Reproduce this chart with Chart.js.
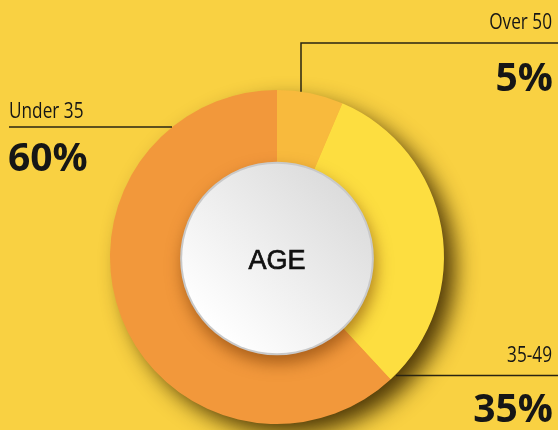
<!DOCTYPE html>
<html><head><meta charset="utf-8">
<script src="https://cdn.jsdelivr.net/npm/chart.js@4.4.1/dist/chart.umd.min.js"></script>
<style>
html,body{margin:0;padding:0;background:#F9D142;overflow:hidden}
#wrap{width:558px;height:430px;position:relative}
</style>
</head><body><div id="wrap"><canvas id="c" width="558" height="430"></canvas></div>
<script>
// Data (slice sizes as drawn in the reference; printed labels as shown)
const categories = ["Over 50", "35-49", "Under 35"];
const sliceShares = [6.4, 31.7, 61.9];
const shareLabels = ["5%", "35%", "60%"];
const centerTitle = "AGE";
const sliceColors = ["#F8BA3D", "#FDDE40", "#F2983B"];

function condensedText(ctx, text, x, y, align, sx) {
  ctx.save();
  ctx.translate(x, y);
  ctx.scale(sx, 1);
  ctx.textAlign = align;
  ctx.fillText(text, 0, 0);
  ctx.restore();
}

const decor = {
  id: 'decor',
  beforeDatasetsDraw(chart) {
    const arc = chart.getDatasetMeta(0).data[0];
    if (!arc) return;
    const ctx = chart.ctx;
    ctx.save();
    ctx.shadowColor = 'rgba(60,40,0,0.9)';
    ctx.shadowBlur = 22;
    ctx.shadowOffsetX = 12;
    ctx.shadowOffsetY = 11;
    ctx.fillStyle = sliceColors[2];
    ctx.beginPath();
    ctx.arc(arc.x, arc.y, arc.outerRadius - 1, 0, Math.PI * 2);
    ctx.fill();
    ctx.restore();
  },
  afterDatasetsDraw(chart) {
    const arc = chart.getDatasetMeta(0).data[0];
    if (!arc) return;
    const ctx = chart.ctx;
    const cx = arc.x, cy = arc.y + 1.5, r = arc.outerRadius * 0.58;
    ctx.save();
    ctx.shadowColor = 'rgba(110,50,0,0.55)';
    ctx.shadowBlur = 16;
    ctx.shadowOffsetX = 2;
    ctx.shadowOffsetY = 8;
    ctx.fillStyle = '#c9c9c9';
    ctx.beginPath();
    ctx.arc(cx, cy, r, 0, Math.PI * 2);
    ctx.fill();
    ctx.restore();
    const g = ctx.createLinearGradient(cx - r * 0.7, cy + r * 0.7, cx + r * 0.7, cy - r * 0.7);
    g.addColorStop(0, '#ffffff');
    g.addColorStop(1, '#dcdcdc');
    ctx.fillStyle = g;
    ctx.beginPath();
    ctx.arc(cx, cy, r - 2, 0, Math.PI * 2);
    ctx.fill();
    ctx.fillStyle = '#111';
    ctx.strokeStyle = '#111';
    ctx.lineWidth = 0.7;
    ctx.font = '27px "Liberation Sans", Arial, sans-serif';
    ctx.textAlign = 'center';
    ctx.textBaseline = 'alphabetic';
    ctx.fillText(centerTitle, cx, 269);
    ctx.strokeText(centerTitle, cx, 269);
  },
  afterDraw(chart) {
    const ctx = chart.ctx;
    const arc = chart.getDatasetMeta(0).data[0];
    const cx = arc.x, cy = arc.y, R = arc.outerRadius;
    ctx.save();
    ctx.strokeStyle = '#2a2412';
    ctx.lineWidth = 1.5;
    const vx = 301;
    const vy = cy - Math.sqrt(R * R - (vx - cx) * (vx - cx));
    ctx.beginPath();
    ctx.moveTo(vx, vy); ctx.lineTo(vx, 43); ctx.lineTo(558, 43);
    ctx.stroke();
    ctx.beginPath();
    ctx.moveTo(9, 127); ctx.lineTo(172, 127);
    ctx.stroke();
    ctx.beginPath();
    ctx.moveTo(396, 375.5); ctx.lineTo(558, 375.5);
    ctx.stroke();

    ctx.fillStyle = '#161616';
    ctx.textBaseline = 'alphabetic';
    ctx.font = '21px "Open Sans", sans-serif';
    condensedText(ctx, categories[0], 552, 29, 'right', 0.82);
    condensedText(ctx, categories[1], 552, 362, 'right', 0.82);
    condensedText(ctx, categories[2], 9, 118, 'left', 0.82);
    ctx.font = 'bold 39px "Open Sans", sans-serif';
    condensedText(ctx, shareLabels[0], 553, 91, 'right', 1);
    condensedText(ctx, shareLabels[1], 553, 422, 'right', 1);
    condensedText(ctx, shareLabels[2], 8, 171, 'left', 1);
    ctx.restore();
  }
};

new Chart(document.getElementById('c'), {
  type: 'doughnut',
  data: {
    labels: categories,
    datasets: [{
      data: sliceShares,
      backgroundColor: sliceColors,
      borderWidth: 0,
      hoverOffset: 0
    }]
  },
  options: {
    responsive: false,
    animation: false,
    cutout: 0,
    rotation: 0,
    layout: { padding: { top: 90, bottom: 6, left: 110, right: 114 } },
    plugins: { legend: { display: false }, tooltip: { enabled: false } },
    events: []
  },
  plugins: [decor]
});
</script>
</body></html>
